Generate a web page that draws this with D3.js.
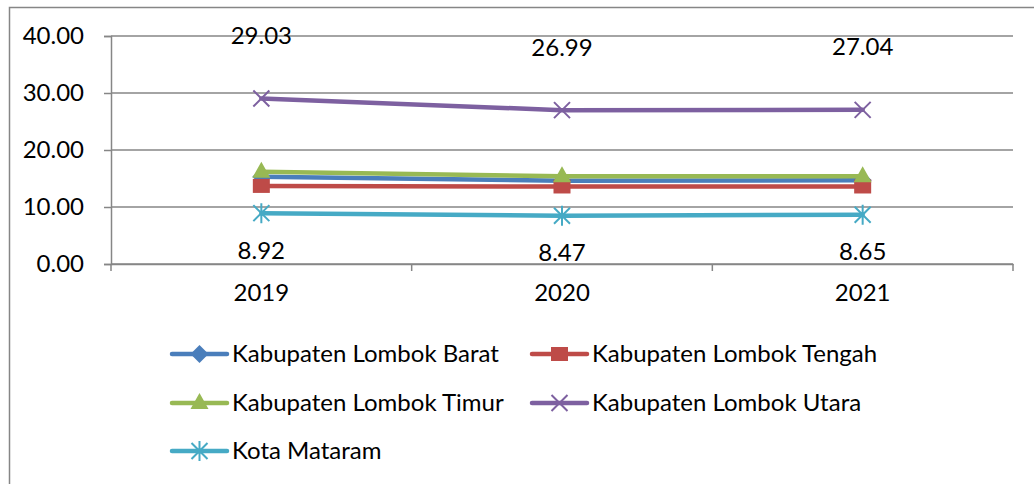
<!DOCTYPE html>
<html><head><meta charset="utf-8">
<script src="https://cdn.jsdelivr.net/npm/d3@7"></script>
<style>body{margin:0;background:#fff;} svg{display:block;} text{font-family:Lato, "Open Sans", sans-serif;fill:#000;}</style>
</head><body><svg id="c" width="1034" height="484"></svg>
<script>
const categories = ["2019","2020","2021"];
const seriesNames = ["Kabupaten Lombok Barat","Kabupaten Lombok Tengah","Kabupaten Lombok Timur","Kabupaten Lombok Utara","Kota Mataram"];
const barat  = [15.3, 14.6, 14.7];
const tengah = [13.7, 13.6, 13.6];
const timur  = [16.2, 15.4, 15.4];
const utara  = [29.03, 26.99, 27.04];
const mataram = [8.92, 8.47, 8.65];
const yTicks = [0, 10, 20, 30, 40];
const colors = ["#4A7EBB","#BE4B48","#98B954","#7D60A0","#46AAC5"];
const markers = ["diamond","square","triangle","x","star"];
const seriesValues = [barat, tengah, timur, utara, mataram];
const FS = 24;

const svg = d3.select("#c");
svg.append("rect").attr("x",9.5).attr("y",7.5).attr("width",1040).attr("height",500)
  .attr("fill","none").attr("stroke","#868686").attr("stroke-width",1.5);

const pLeft=111, pRight=1013, pTop=36, pBottom=264;
const x = d3.scaleBand().domain(categories).range([pLeft,pRight]);
const y = d3.scaleLinear().domain([0,40]).range([pBottom,pTop]);

svg.append("g").selectAll("line").data(yTicks).join("line")
  .attr("x1",pLeft).attr("x2",pRight).attr("y1",d=>y(d)).attr("y2",d=>y(d))
  .attr("stroke","#868686").attr("stroke-width",1.5);

const yAxis = d3.axisLeft(y).tickValues(yTicks).tickSize(7).tickPadding(20).tickFormat(d3.format(".2f"));
const gy = svg.append("g").attr("transform",`translate(${pLeft},0)`).call(yAxis);
gy.select(".domain").attr("stroke","#868686").attr("stroke-width",1.5);
gy.selectAll(".tick line").attr("stroke","#868686").attr("stroke-width",1.5);
gy.selectAll(".tick text").attr("font-size",FS).attr("font-family","Lato").attr("fill","#000");

const xAxis = d3.axisBottom(x).tickSize(0).tickPadding(20);
const gx = svg.append("g").attr("transform",`translate(0,${pBottom})`).call(xAxis);
gx.select(".domain").attr("stroke","#868686").attr("stroke-width",1.5);
gx.selectAll(".tick text").attr("font-size",FS).attr("font-family","Lato").attr("fill","#000");
const bounds = categories.map(c=>x(c)).concat([x(categories[categories.length-1])+x.bandwidth()]);
svg.append("g").selectAll("line").data(bounds).join("line")
  .attr("x1",d=>d).attr("x2",d=>d).attr("y1",pBottom).attr("y2",pBottom+7)
  .attr("stroke","#868686").attr("stroke-width",1.5);

function drawMarker(g, type, color, cx, cy){
  const s = 9;
  if(type==="diamond"){
    g.append("path").attr("d",`M${cx},${cy-s} L${cx+s},${cy} L${cx},${cy+s} L${cx-s},${cy} Z`).attr("fill",color);
  } else if(type==="square"){
    g.append("rect").attr("x",cx-8.5).attr("y",cy-7).attr("width",17).attr("height",14).attr("fill",color);
  } else if(type==="triangle"){
    g.append("path").attr("d",`M${cx},${cy-10} L${cx+9},${cy+6} L${cx-9},${cy+6} Z`).attr("fill",color);
  } else if(type==="x"){
    g.append("path").attr("d",`M${cx-8},${cy-8} L${cx+8},${cy+8} M${cx-8},${cy+8} L${cx+8},${cy-8}`)
      .attr("stroke",color).attr("stroke-width",2).attr("fill","none");
  } else if(type==="star"){
    g.append("path").attr("d",`M${cx-8},${cy-8} L${cx+8},${cy+8} M${cx-8},${cy+8} L${cx+8},${cy-8} M${cx},${cy-10} L${cx},${cy+10}`)
      .attr("stroke",color).attr("stroke-width",2).attr("fill","none");
  }
}

const cxOf = c => x(c) + x.bandwidth()/2;
const line = d3.line().x((d,i)=>cxOf(categories[i])).y(d=>y(d));

seriesValues.forEach((vals,k)=>{
  const g = svg.append("g");
  g.append("path").datum(vals).attr("d",line).attr("fill","none")
    .attr("stroke",colors[k]).attr("stroke-width",4.5).attr("stroke-linejoin","round").attr("stroke-linecap","round");
  vals.forEach((v,i)=>drawMarker(g, markers[k], colors[k], cxOf(categories[i]), y(v)));
});

svg.append("g").selectAll("text").data(utara).join("text")
  .attr("x",(d,i)=>cxOf(categories[i])).attr("y",d=>y(d)-63).attr("dy","0.35em")
  .attr("text-anchor","middle").attr("font-size",FS).text(d=>d.toFixed(2));
svg.append("g").selectAll("text").data(mataram).join("text")
  .attr("x",(d,i)=>cxOf(categories[i])).attr("y",d=>y(d)+37).attr("dy","0.35em")
  .attr("text-anchor","middle").attr("font-size",FS).text(d=>d.toFixed(2));

const legPos = [[172,354],[532,354],[172,403],[532,403],[172,451]];
seriesNames.forEach((name,k)=>{
  const [lx,ly] = legPos[k];
  const g = svg.append("g");
  g.append("line").attr("x1",lx).attr("x2",lx+55).attr("y1",ly).attr("y2",ly)
    .attr("stroke",colors[k]).attr("stroke-width",4.5).attr("stroke-linecap","round");
  drawMarker(g, markers[k], colors[k], lx+27.5, ly);
  g.append("text").attr("x",lx+60).attr("y",ly).attr("dy","0.35em").attr("font-size",FS).text(name);
});
</script></body></html>
